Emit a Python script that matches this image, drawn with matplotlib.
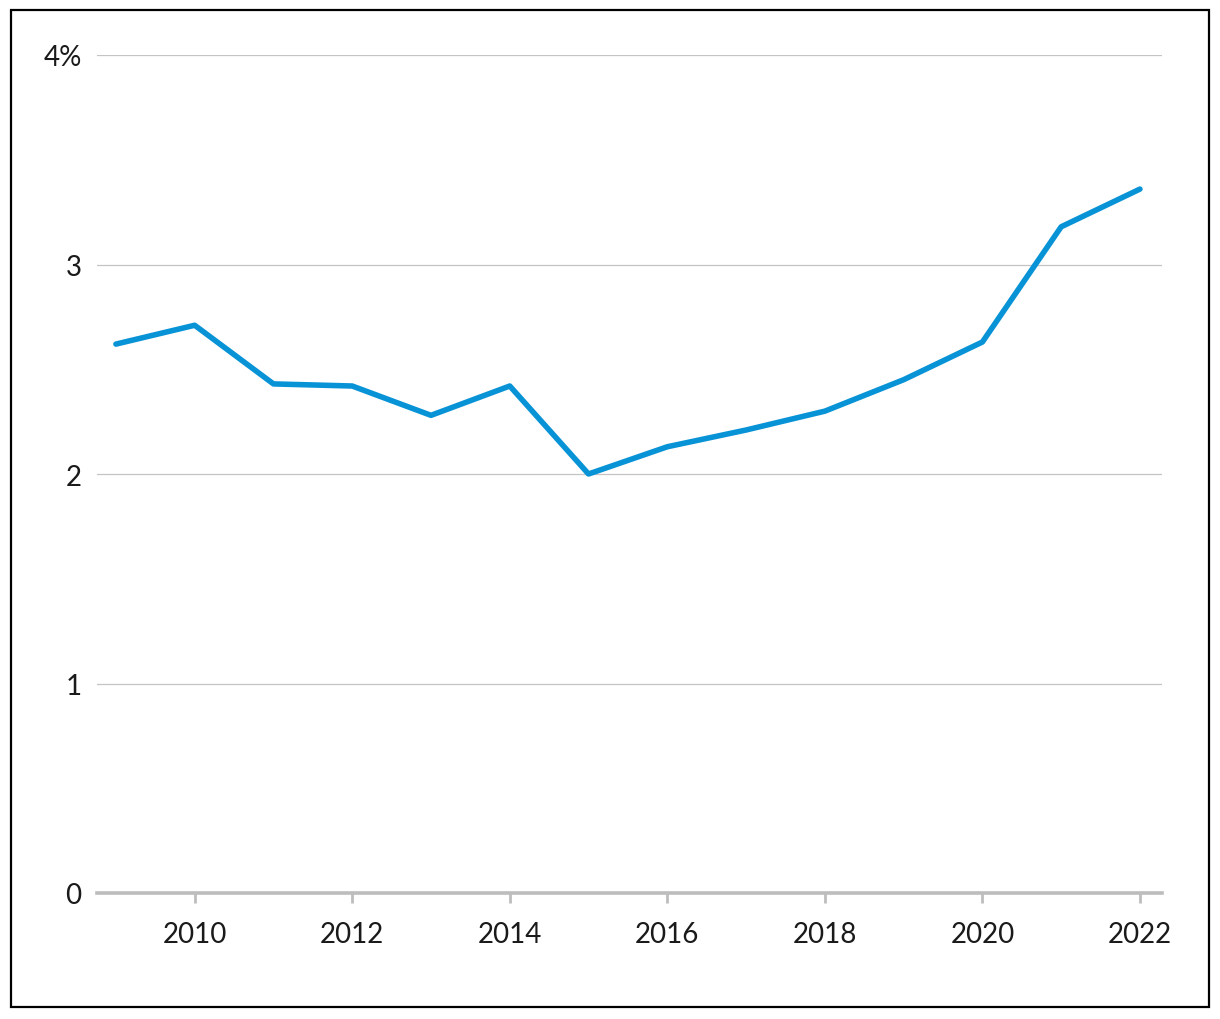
import matplotlib
matplotlib.use("Agg")
import matplotlib.pyplot as plt
from matplotlib.patches import Rectangle

years = [2009, 2010, 2011, 2012, 2013, 2014, 2015, 2016, 2017, 2018, 2019, 2020, 2021, 2022]
values = [2.62, 2.71, 2.43, 2.42, 2.28, 2.42, 2.00, 2.13, 2.21, 2.30, 2.45, 2.63, 3.18, 3.36]
x_ticks = [2010, 2012, 2014, 2016, 2018, 2020, 2022]
y_ticks = [0, 1, 2, 3, 4]
y_labels = ['0', '1', '2', '3', '4%']

plt.rcParams['font.family'] = ['Lato', 'DejaVu Sans']

fig = plt.figure(figsize=(12.2, 10.2), dpi=100)
fig.patches.append(Rectangle((11 / 1220, 12 / 1020), 1198 / 1220, 997 / 1020,
                             transform=fig.transFigure, fill=False,
                             edgecolor='black', linewidth=1.6))

ax = fig.add_axes([97 / 1220, 1 - 894 / 1020, 1065 / 1220, 838 / 1020])
ax.plot(years, values, color='#0893d6', lw=4, solid_capstyle='round',
        solid_joinstyle='round', zorder=3)

ax.set_xlim(2008.76, 2022.28)
ax.set_ylim(0, 4)
ax.set_yticks(y_ticks)
ax.set_yticklabels(y_labels)
ax.set_xticks(x_ticks)

for s in ['top', 'right', 'left']:
    ax.spines[s].set_visible(False)
ax.spines['bottom'].set_color('#bdbdbd')
ax.spines['bottom'].set_linewidth(2.6)
ax.spines['bottom'].set_zorder(2)

ax.grid(axis='y', color='#c4c4c4', linewidth=0.9)
ax.set_axisbelow(True)
ax.tick_params(axis='y', length=0, pad=11, labelsize=20, colors='#1a1a1a')
ax.tick_params(axis='x', length=7, width=2, color='#bdbdbd', pad=13,
               labelsize=20, labelcolor='#1a1a1a')

fig.savefig('out.png', dpi=100)
